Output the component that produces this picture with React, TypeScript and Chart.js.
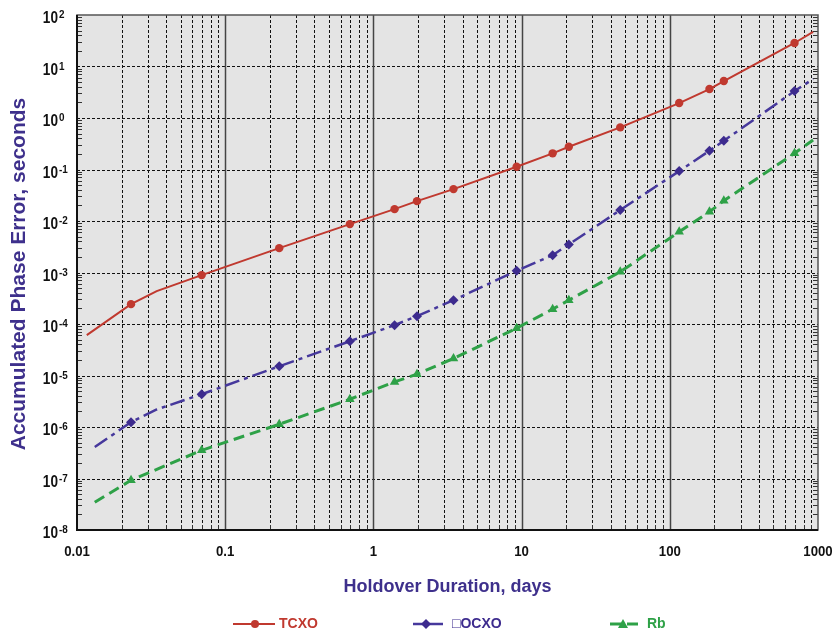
import React, { useEffect, useRef } from "react";
import { Chart, registerables } from "chart.js";

Chart.register(...registerables);

// ---- data ----
const markerDays = [0.02315, 0.0694, 0.2315, 0.694, 1.389, 1.968, 3.472, 9.259, 16.2, 20.83, 46.3, 115.7, 185.2, 231.5, 694.4];

const tcxoDays = [0.01164, 0.02315, 0.0345, 0.0694, 0.2315, 0.694, 1.389, 1.968, 3.472, 9.259, 16.2, 20.83, 46.3, 115.7, 185.2, 231.5, 694.4, 927];
const tcxoValues = [6.07e-5, 2.43e-4, 4.35e-4, 8.9e-4, 2.97e-3, 8.7e-3, 0.017, 0.0243, 0.0416, 0.113, 0.206, 0.276, 0.658, 1.95, 3.65, 5.22, 28.6, 46.8];

const ocxoDays = [0.01318, 0.02315, 0.0345, 0.0694, 0.2315, 0.694, 1.389, 1.968, 3.472, 9.259, 16.2, 20.83, 46.3, 115.7, 185.2, 231.5, 694.4, 927];
const ocxoValues = [4.1e-7, 1.24e-6, 2.19e-6, 4.33e-6, 1.51e-5, 4.63e-5, 9.5e-5, 1.42e-4, 2.9e-4, 1.08e-3, 2.17e-3, 3.51e-3, 0.0163, 0.093, 0.231, 0.361, 3.33, 5.71];

const rbDays = [0.01318, 0.02315, 0.0694, 0.2315, 0.694, 1.389, 1.968, 3.472, 9.259, 16.2, 20.83, 46.3, 115.7, 185.2, 231.5, 694.4, 927];
const rbValues = [3.45e-8, 9.25e-8, 3.53e-7, 1.13e-6, 3.46e-6, 7.5e-6, 1.06e-5, 2.14e-5, 8.3e-5, 1.94e-4, 2.9e-4, 1.03e-3, 6.17e-3, 0.0151, 0.0247, 0.206, 0.374];

const seriesNames = ["TCXO", "\u25A1OCXO", "Rb"];
const xTickValues = [0.01, 0.1, 1, 10, 100, 1000];
const xTickLabels = ["0.01", "0.1", "1", "10", "100", "1000"];
const yTickExponents = [2, 1, 0, -1, -2, -3, -4, -5, -6, -7, -8];
const xTitle = "Holdover Duration, days";
const yTitle = "Accumulated Phase Error, seconds";

// ---- styles ----
const RED = "#c0392f";
const PURPLE = "#3d2b8e";
const PURPLE_LINE = "#46389c";
const GREEN = "#2ea147";
const TITLE = "#3e308c";
const FONT = '"Liberation Sans", Arial, sans-serif';
const OCXO_DASH = [15, 5, 4, 5];
const RB_DASH = [11, 6];
const CANVAS_W = 833;
const CANVAS_H = 635;

const isMarker = (x: number) => markerDays.some((d) => Math.abs(d - x) / d < 1e-6);

function toPoints(xs: number[], ys: number[]) {
  return xs.map((x, i) => ({ x, y: ys[i] }));
}

function drawText(ctx: CanvasRenderingContext2D, s: string, x: number, y: number, font: string, color: string, align: CanvasTextAlign, sx = 1, baseline: CanvasTextBaseline = "middle") {
  ctx.save();
  ctx.translate(x, y);
  ctx.scale(sx, 1);
  ctx.font = font;
  ctx.fillStyle = color;
  ctx.textAlign = align;
  ctx.textBaseline = baseline;
  ctx.fillText(s, 0, 0);
  ctx.restore();
}

function seg(ctx: CanvasRenderingContext2D, x1: number, y1: number, x2: number, y2: number) {
  ctx.beginPath();
  ctx.moveTo(x1, y1);
  ctx.lineTo(x2, y2);
  ctx.stroke();
}

const decor = {
  id: "decor",
  beforeDatasetsDraw(chart: any) {
    const { ctx, chartArea: a } = chart;
    const x = chart.scales.x;
    const y = chart.scales.y;
    ctx.save();
    ctx.fillStyle = "#e4e4e4";
    ctx.fillRect(a.left, a.top, a.right - a.left, a.bottom - a.top);

    // minor vertical dotted grid
    ctx.lineWidth = 1;
    ctx.strokeStyle = "#111";
    ctx.setLineDash([3, 2]);
    for (let e = -2; e <= 2; e++) {
      for (let k = 2; k <= 9; k++) {
        const px = Math.round(x.getPixelForValue(k * Math.pow(10, e))) + 0.5;
        seg(ctx, px, a.top, px, a.bottom);
      }
    }
    // horizontal decade dotted grid
    for (let e = -7; e <= 1; e++) {
      const py = Math.round(y.getPixelForValue(Math.pow(10, e))) + 0.5;
      seg(ctx, a.left, py, a.right, py);
    }
    ctx.setLineDash([]);
    // major vertical solid grid
    ctx.strokeStyle = "#444";
    ctx.lineWidth = 1.5;
    for (let e = -1; e <= 2; e++) {
      const px = Math.round(x.getPixelForValue(Math.pow(10, e))) + 0.5;
      seg(ctx, px, a.top, px, a.bottom);
    }
    // minor ticks
    ctx.strokeStyle = "#333";
    ctx.lineWidth = 1;
    for (let e = -8; e <= 1; e++) {
      for (let k = 2; k <= 9; k++) {
        const py = Math.round(y.getPixelForValue(k * Math.pow(10, e))) + 0.5;
        seg(ctx, a.left, py, a.left + 5, py);
        seg(ctx, a.right - 5, py, a.right, py);
      }
    }
    for (let e = -2; e <= 2; e++) {
      for (let k = 2; k <= 9; k++) {
        const px = Math.round(x.getPixelForValue(k * Math.pow(10, e))) + 0.5;
        seg(ctx, px, a.bottom, px, a.bottom - 5);
      }
    }
    // border
    ctx.strokeStyle = "#555";
    ctx.lineWidth = 1.5;
    ctx.strokeRect(a.left, a.top, a.right - a.left, a.bottom - a.top);
    ctx.strokeStyle = "#111";
    ctx.lineWidth = 2;
    seg(ctx, a.left, a.top, a.left, a.bottom + 1);
    seg(ctx, a.left - 1, a.bottom, a.right, a.bottom);
    ctx.restore();
  },
  afterDraw(chart: any) {
    const { ctx, chartArea: a } = chart;
    const x = chart.scales.x;
    const y = chart.scales.y;
    ctx.save();
    // x tick labels
    xTickValues.forEach((v, i) => {
      drawText(ctx, xTickLabels[i], x.getPixelForValue(v), 552, `bold 15px ${FONT}`, "#111", "center", 0.88);
    });
    // y tick labels with superscript exponents
    yTickExponents.forEach((e) => {
      const py = y.getPixelForValue(Math.pow(10, e));
      drawText(ctx, "10", 58, py + 4, `bold 16px ${FONT}`, "#111", "right", 0.85);
      drawText(ctx, e < 0 ? "-" + Math.abs(e) : String(e), 59, py, `bold 11px ${FONT}`, "#111", "left", 0.9);
    });
    // axis titles
    drawText(ctx, xTitle, (a.left + a.right) / 2, 592, `bold 18px ${FONT}`, TITLE, "center", 1, "alphabetic");
    ctx.save();
    ctx.translate(25, 274);
    ctx.rotate(-Math.PI / 2);
    ctx.font = `bold 21px ${FONT}`;
    ctx.fillStyle = TITLE;
    ctx.textAlign = "center";
    ctx.textBaseline = "alphabetic";
    ctx.fillText(yTitle, 0, 0);
    ctx.restore();

    // legend
    const ly = 624;
    // TCXO
    ctx.strokeStyle = RED;
    ctx.lineWidth = 2;
    seg(ctx, 233, ly, 275, ly);
    ctx.fillStyle = RED;
    ctx.beginPath();
    ctx.arc(255, ly, 4, 0, Math.PI * 2);
    ctx.fill();
    drawText(ctx, seriesNames[0], 279, ly, `bold 14px ${FONT}`, RED, "left");
    // OCXO
    ctx.strokeStyle = PURPLE_LINE;
    ctx.lineWidth = 2.5;
    seg(ctx, 413, ly, 443, ly);
    ctx.fillStyle = PURPLE;
    ctx.beginPath();
    ctx.moveTo(426, ly - 5);
    ctx.lineTo(431, ly);
    ctx.lineTo(426, ly + 5);
    ctx.lineTo(421, ly);
    ctx.closePath();
    ctx.fill();
    drawText(ctx, seriesNames[1], 452, ly, `bold 14px ${FONT}`, PURPLE, "left");
    // Rb
    ctx.strokeStyle = GREEN;
    ctx.lineWidth = 3;
    ctx.setLineDash(RB_DASH);
    seg(ctx, 610, ly, 642, ly);
    ctx.setLineDash([]);
    ctx.fillStyle = GREEN;
    ctx.beginPath();
    ctx.moveTo(623, ly - 5);
    ctx.lineTo(628, ly + 4);
    ctx.lineTo(618, ly + 4);
    ctx.closePath();
    ctx.fill();
    drawText(ctx, seriesNames[2], 647, ly, `bold 14px ${FONT}`, GREEN, "left");
    ctx.restore();
  },
};

export default function App() {
  const ref = useRef<HTMLCanvasElement | null>(null);
  useEffect(() => {
    const prevMargin = document.body.style.margin;
    document.body.style.margin = "0";
    if (!ref.current) return;
    const radius = (r: number) => (c: any) => (c.raw && isMarker(c.raw.x) ? r : 0);
    const chart = new Chart(ref.current, {
      type: "scatter",
      data: {
        datasets: [
          {
            label: seriesNames[0],
            data: toPoints(tcxoDays, tcxoValues),
            showLine: true,
            borderColor: RED,
            borderWidth: 2,
            pointStyle: "circle",
            pointRadius: radius(4.2),
            pointBackgroundColor: RED,
            pointBorderColor: RED,
            pointBorderWidth: 0,
            tension: 0,
          },
          {
            label: seriesNames[1],
            data: toPoints(ocxoDays, ocxoValues),
            showLine: true,
            borderColor: PURPLE_LINE,
            borderWidth: 2.5,
            borderDash: OCXO_DASH,
            pointStyle: "rectRot",
            pointRadius: radius(5),
            pointBackgroundColor: PURPLE,
            pointBorderColor: PURPLE,
            pointBorderWidth: 0,
            tension: 0,
          },
          {
            label: seriesNames[2],
            data: toPoints(rbDays, rbValues),
            showLine: true,
            borderColor: GREEN,
            borderWidth: 3,
            borderDash: RB_DASH,
            pointStyle: "triangle",
            pointRadius: radius(5.5),
            pointBackgroundColor: GREEN,
            pointBorderColor: GREEN,
            pointBorderWidth: 0,
            tension: 0,
          },
        ],
      },
      options: {
        responsive: false,
        animation: false,
        layout: { padding: { top: 15, right: CANVAS_W - 818, left: 0, bottom: 0 } },
        plugins: { legend: { display: false }, tooltip: { enabled: false } },
        scales: {
          x: {
            type: "logarithmic",
            min: 0.01,
            max: 1000,
            ticks: { display: false },
            grid: { display: false },
            border: { display: false },
            afterFit: (s: any) => {
              s.height = CANVAS_H - 530;
            },
          },
          y: {
            type: "logarithmic",
            min: 1e-8,
            max: 100,
            ticks: { display: false },
            grid: { display: false },
            border: { display: false },
            afterFit: (s: any) => {
              s.width = 77;
            },
          },
        },
      },
      plugins: [decor],
    });
    return () => {
      chart.destroy();
      document.body.style.margin = prevMargin;
    };
  }, []);
  return <canvas ref={ref} width={CANVAS_W} height={CANVAS_H} style={{ display: "block" }} />;
}
